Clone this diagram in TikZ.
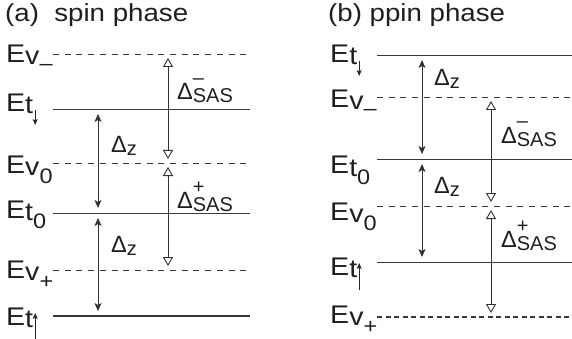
\documentclass[tikz,border=0pt]{standalone}
\usepackage{fontspec}
\setmainfont{Liberation Sans}[FakeStretch=1.12]
\newfontfamily\gapfont{Liberation Sans}
\usetikzlibrary{arrows.meta}

\newcommand{\ename}[3][8pt]{E\raisebox{-2pt}{#2\raisebox{-#1}{\fontsize{21}{21}\selectfont #3}}}
\newcommand{\spin}[2]{\kern-0.5pt\tikz[baseline=0pt]\draw[draw=black!85, line width=0.9pt, -{Stealth[length=6pt,width=5pt,inset=1.5pt]}] (0pt,#1) -- (0pt,#2);}
\newcommand{\dz}{Δ\raisebox{-3pt}{\fontsize{20}{20}\selectfont z}}
\newcommand{\dsas}[1]{Δ\rlap{\raisebox{15pt}{\fontsize{20}{20}\selectfont #1}}\raisebox{-3pt}{\fontsize{20}{20}\selectfont SAS}}

\begin{document}
\begin{tikzpicture}[x=1pt,y=-1pt]
   \tikzstyle{every node}=[inner sep=0pt, text=black!88]
   \tikzstyle{title}=[anchor=base west, font=\fontsize{24.7}{28}\selectfont]
   \tikzstyle{lvl}=[anchor=base west, font=\fontsize{25.5}{28}\selectfont]
   \tikzstyle{gap}=[anchor=base west, font=\gapfont\fontsize{23.5}{26}\selectfont]
   \tikzstyle{tline}=[draw=black!78, line width=0.9pt]
   \tikzstyle{vline}=[tline, dash pattern=on 6pt off 5.7pt]
   \tikzstyle{zarrow}=[draw=black!80, line width=0.9pt, shorten <=5pt, shorten >=5pt,
      {Stealth[length=8pt,width=7pt,inset=2pt]}-{Stealth[length=8pt,width=7pt,inset=2pt]}]
   \tikzstyle{sasarrow}=[draw=black!80, line width=0.9pt, shorten <=4pt, shorten >=4pt,
      {Triangle[open,length=9pt,width=10pt]}-{Triangle[open,length=9pt,width=10pt]}]

   \useasboundingbox (0,0) rectangle (572,339);

   % (a) spin phase
   \node[title] (ta) at (5,22) {(a)\ \ spin phase};

   \coordinate (a-vm) at (53,54);
   \coordinate (a-td) at (53,109);
   \coordinate (a-v0) at (53,163);
   \coordinate (a-t0) at (53,213);
   \coordinate (a-vp) at (53,270);
   \coordinate (a-tu) at (53,316);
   \coordinate (a-z) at (98,0);
   \coordinate (a-sas) at (168,0);

   \draw[vline] (a-vm) -- ++(197,0);
   \draw[tline] (a-td) -- ++(197,0);
   \draw[vline] (a-v0) -- ++(197,0);
   \draw[tline] (a-t0) -- ++(197,0);
   \draw[vline] (a-vp) -- ++(197,0);
   \draw[tline, line width=2.8pt] (a-tu) -- ++(197,0);

   \node[lvl] (a-vm-l) at (6,63) {\ename[6pt]{v}{\textendash}};
   \node[lvl] (a-td-l) at (6,112) {\ename[0pt]{t}{\spin{4pt}{-11pt}}};
   \node[lvl] (a-v0-l) at (6,173) {\ename{v}{0}};
   \node[lvl] (a-t0-l) at (6,218) {\ename{t}{0}};
   \node[lvl] (a-vp-l) at (6,278) {\ename{v}{+}};
   \node[lvl] (a-tu-l) at (6,325) {\ename[0pt]{t}{\spin{-13pt}{14pt}}};

   \draw[zarrow] (a-td -| a-z) -- (a-t0 -| a-z);
   \draw[zarrow] (a-t0 -| a-z) -- (a-tu -| a-z);
   \draw[sasarrow] (a-vm -| a-sas) -- (a-v0 -| a-sas);
   \draw[sasarrow] (a-v0 -| a-sas) -- (a-vp -| a-sas);

   \node[gap] (a-dz1) at (111,153) {\dz};
   \node[gap] (a-dz2) at (111,252) {\dz};
   \node[gap] (a-dm) at (177,100) {\dsas{\textendash}};
   \node[gap] (a-dp) at (177,208) {\dsas{+}};

   % (b) ppin phase
   \node[title] (tb) at (328,22) {(b) ppin phase};

   \coordinate (b-td) at (377,55);
   \coordinate (b-vm) at (377,97);
   \coordinate (b-t0) at (377,159);
   \coordinate (b-v0) at (377,206);
   \coordinate (b-tu) at (377,262);
   \coordinate (b-vp) at (377,317);
   \coordinate (b-z) at (422,0);
   \coordinate (b-sas) at (491,0);

   \draw[tline] (b-td) -- ++(195,0);
   \draw[vline] (b-vm) -- ++(195,0);
   \draw[tline] (b-t0) -- ++(195,0);
   \draw[vline] (b-v0) -- ++(195,0);
   \draw[tline] (b-tu) -- ++(195,0);
   \draw[tline, line width=2.8pt, dash pattern=on 5pt off 3.5pt] (b-vp) -- ++(195,0);

   \node[lvl] (b-td-l) at (330,63) {\ename[0pt]{t}{\spin{4pt}{-11pt}}};
   \node[lvl] (b-vm-l) at (330,108) {\ename[6pt]{v}{\textendash}};
   \node[lvl] (b-t0-l) at (330,174) {\ename{t}{0}};
   \node[lvl] (b-v0-l) at (330,220) {\ename{v}{0}};
   \node[lvl] (b-tu-l) at (330,275) {\ename[0pt]{t}{\spin{-13pt}{14pt}}};
   \node[lvl] (b-vp-l) at (330,323) {\ename{v}{+}};

   \draw[zarrow] (b-td -| b-z) -- (b-t0 -| b-z);
   \draw[zarrow] (b-t0 -| b-z) -- (b-tu -| b-z);
   \draw[sasarrow] (b-vm -| b-sas) -- (b-v0 -| b-sas);
   \draw[sasarrow] (b-v0 -| b-sas) -- (b-vp -| b-sas);

   \node[gap] (b-dz1) at (434,86) {\dz};
   \node[gap] (b-dz2) at (434,193) {\dz};
   \node[gap] (b-dm) at (501,143) {\dsas{\textendash}};
   \node[gap] (b-dp) at (501,247) {\dsas{+}};

\end{tikzpicture}
\end{document}
